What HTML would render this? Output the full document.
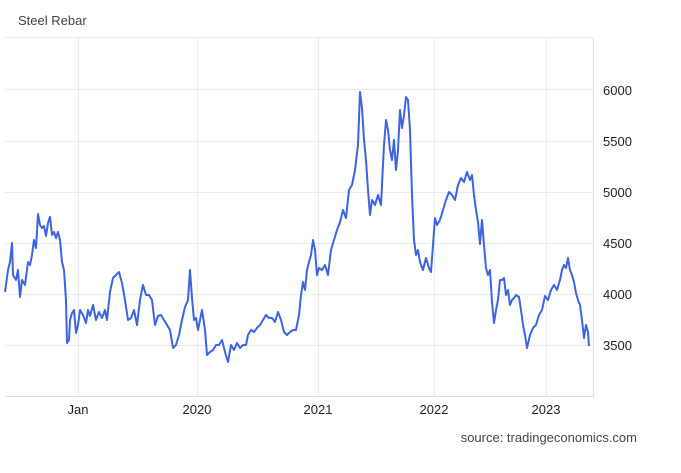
<!DOCTYPE html>
<html><head><style>
body{margin:0;background:#fff;}
svg{display:block;font-family:"Liberation Sans",sans-serif;}
</style></head><body>
<svg width="681" height="473" viewBox="0 0 681 473">
<text x="18" y="25" font-size="13" fill="#444">Steel Rebar</text>
<g stroke="#ebebeb" stroke-width="1">
<line x1="5" y1="37.5" x2="593" y2="37.5"/>
<line x1="5" y1="89.5" x2="593" y2="89.5"/>
<line x1="5" y1="141.5" x2="593" y2="141.5"/>
<line x1="5" y1="192.5" x2="593" y2="192.5"/>
<line x1="5" y1="243.5" x2="593" y2="243.5"/>
<line x1="5" y1="294.5" x2="593" y2="294.5"/>
<line x1="5" y1="345.5" x2="593" y2="345.5"/>
<line x1="78.5" y1="38" x2="78.5" y2="397"/>
<line x1="197.5" y1="38" x2="197.5" y2="397"/>
<line x1="318.5" y1="38" x2="318.5" y2="397"/>
<line x1="434.5" y1="38" x2="434.5" y2="397"/>
<line x1="546.5" y1="38" x2="546.5" y2="397"/>
</g>
<line x1="5" y1="396.5" x2="593" y2="396.5" stroke="#ddd"/>
<line x1="593.5" y1="38" x2="593.5" y2="397" stroke="#ddd"/>
<g font-size="13" fill="#222">
<text x="603" y="95">6000</text>
<text x="603" y="146">5500</text>
<text x="603" y="197">5000</text>
<text x="603" y="248">4500</text>
<text x="603" y="299">4000</text>
<text x="603" y="350">3500</text>
<text x="78" y="414" text-anchor="middle">Jan</text>
<text x="197" y="414" text-anchor="middle">2020</text>
<text x="318" y="414" text-anchor="middle">2021</text>
<text x="434" y="414" text-anchor="middle">2022</text>
<text x="546" y="414" text-anchor="middle">2023</text>
<text x="637" y="442" text-anchor="end" fill="#444">source: tradingeconomics.com</text>
</g>
<polyline fill="none" stroke="#3c64e0" stroke-width="2" stroke-linejoin="round" points="5,292 8,270 10,262 12,243 13,275 16,280 18,270 20,297 22,280 25,285 28,262 30,265 32,255 34,240 36,248 38,214 40,225 42,228 44,226 46,236 48,223 50,217 52,235 54,232 56,238 58,232 60,240 62,262 64,270 66,300 67,343 69,340 70,320 72,313 74,310 76,333 78,325 80,310 83,315 86,323 88,310 90,316 93,305 96,320 99,312 102,318 105,310 107,320 110,292 113,278 116,275 119,272 122,283 125,300 128,320 131,318 134,310 137,325 140,300 143,285 146,295 149,295 152,300 155,325 158,316 161,315 164,320 167,325 170,330 173,348 176,345 179,335 182,320 185,307 188,300 190,270 192,298 194,320 196,318 198,330 200,320 202,310 205,330 207,355 210,352 213,350 216,345 219,345 222,340 225,352 228,362 231,345 234,350 237,343 240,348 243,345 246,345 248,335 251,330 254,332 257,328 260,325 263,320 266,315 269,318 272,318 275,322 278,312 281,320 284,332 287,335 290,332 293,330 296,330 299,315 301,295 303,282 305,290 307,270 309,262 311,255 313,240 315,250 317,275 319,268 322,270 325,265 328,275 331,250 334,240 337,230 340,222 343,210 346,218 349,190 352,185 355,170 358,145 360,92 362,108 364,140 366,160 368,190 370,215 372,200 375,205 378,195 381,205 384,145 386,120 388,130 390,150 392,160 394,140 396,170 398,150 400,110 402,128 404,115 406,97 408,100 410,130 412,195 414,240 416,255 418,250 420,262 423,270 426,258 429,268 431,272 433,245 435,218 437,225 440,220 443,210 446,200 449,192 452,195 455,200 458,185 461,178 464,182 467,172 470,180 472,175 474,195 476,210 478,222 480,244 482,220 484,245 486,268 488,275 490,270 492,302 494,323 496,310 498,300 500,280 502,280 504,278 506,295 508,290 510,305 512,300 514,298 516,295 519,297 521,310 523,325 525,335 527,348 530,335 533,328 536,325 539,315 542,310 545,296 548,300 551,290 554,285 557,290 560,280 562,270 564,265 566,268 568,258 570,270 572,275 574,282 576,293 578,300 580,305 582,320 584,338 586,325 588,332 589,346"/>
</svg>
</body></html>
